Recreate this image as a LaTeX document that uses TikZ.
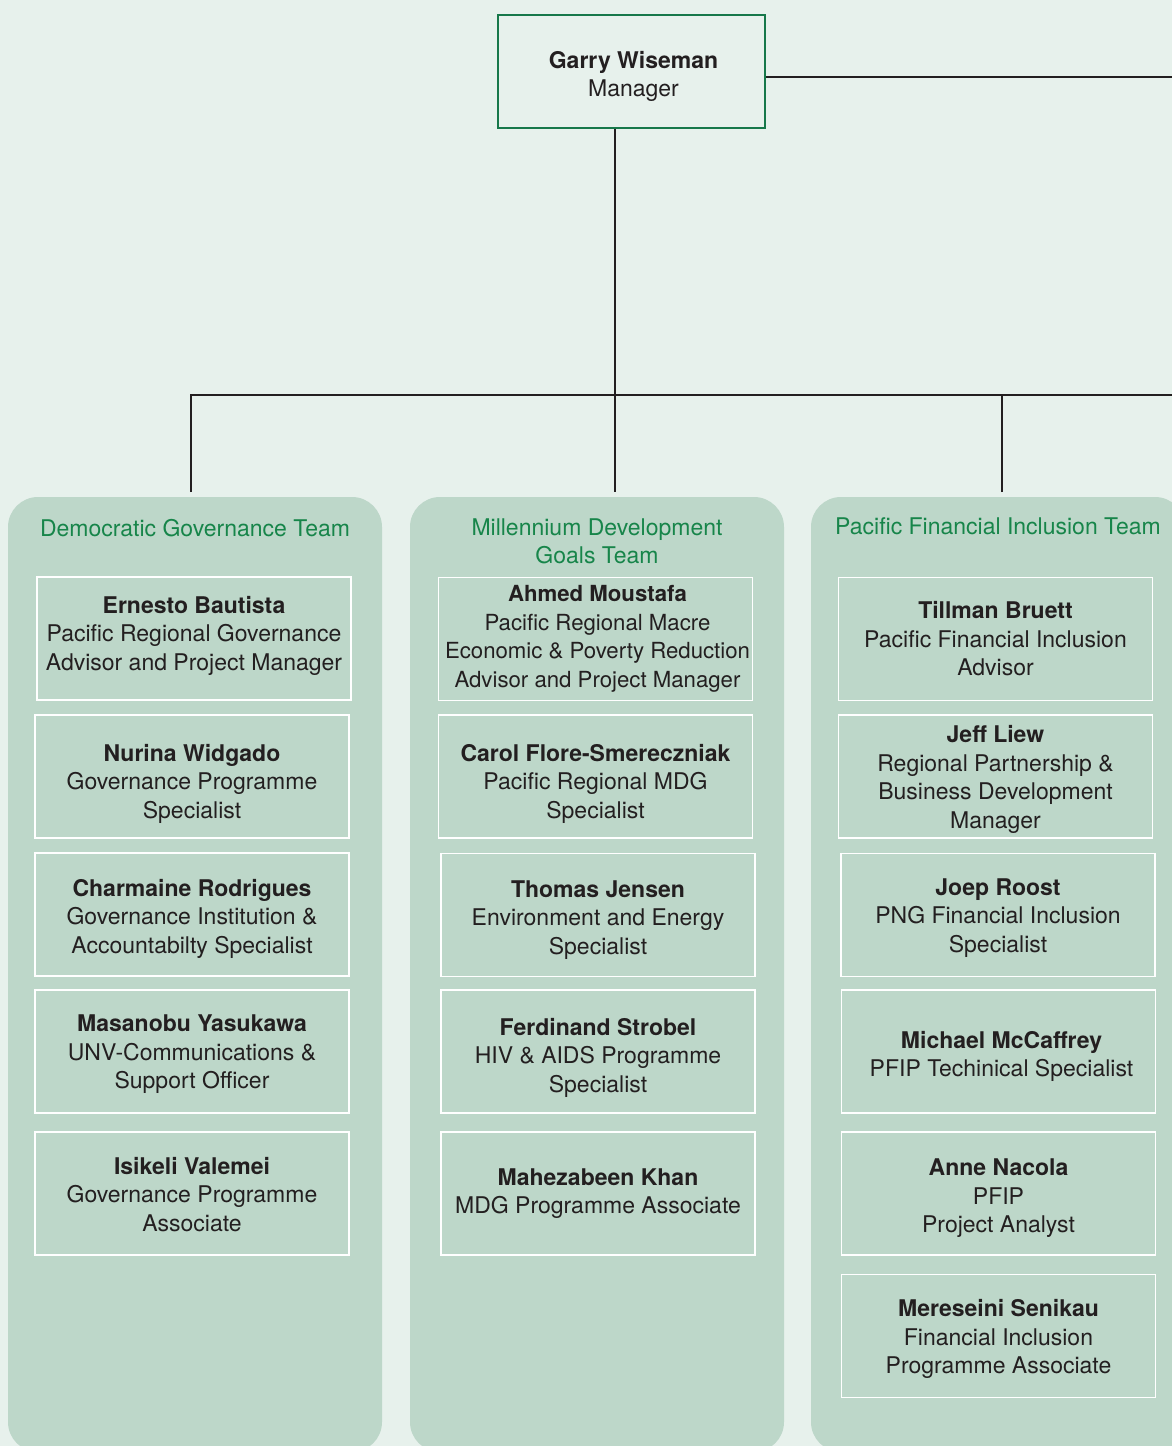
\documentclass[tikz,border=0pt]{standalone}
\usepackage{fontspec}
\setmainfont{TeX Gyre Heros}
\definecolor{bgc}{HTML}{E7F1EC}
\definecolor{panelc}{HTML}{BDD7C9}
\definecolor{titlegreen}{HTML}{17854A}
\definecolor{boxgreen}{HTML}{17784A}
\definecolor{ink}{HTML}{231F20}
\begin{document}
\begin{tikzpicture}[x=1pt,y=-1pt,
  panel/.style={fill=panelc, rounded corners=30pt, minimum width=374pt, minimum height=955pt, inner sep=0pt},
  teamtitle/.style={text=titlegreen, align=center, font=\fontsize{23}{28}\selectfont, inner sep=0pt},
  pbox/.style={draw=white, line width=1.5pt, minimum width=314pt, minimum height=123pt, inner sep=0pt},
  ptext/.style={align=center, text=ink, inner sep=0pt, font=\fontsize{23}{28.5}\selectfont},
  mgrbox/.style={draw=boxgreen, line width=2.5pt, fill=bgc, minimum width=267pt, minimum height=113pt, inner sep=0pt},
  conn/.style={draw=ink, line width=2.8pt}
]
\useasboundingbox (0,0) rectangle (1172,1446);
\clip (0,0) rectangle (1172,1446);
\fill[bgc] (0,0) rectangle (1172,1446);

% panels
\node[panel] (pDG) at (195,974.5) {};
\node[panel] (pMDG) at (597,974.5) {};
\node[panel] (pPFI) at (998,974.5) {};

% manager
\node[mgrbox] (top) at (631.5,71.5) {};
\node[ptext, font=\fontsize{23}{28}\selectfont] (topt) at ([xshift=2pt,yshift=-5pt]top.center) {\textbf{Garry Wiseman}\\Manager};

% connectors
\coordinate (mgrR) at (1172,77);
\coordinate (bus) at (615,395);
\coordinate (busR) at (1172,395);
\coordinate (d1) at (191,492);
\coordinate (d2) at (615,492);
\coordinate (d3) at (1002,492);
\draw[conn] (top.east |- mgrR) -- (mgrR);
\draw[conn] (top.south -| bus) -- (d2);
\draw[conn] (d1) |- (busR);
\draw[conn] (d3) -- (d3 |- bus);

% titles
\node[teamtitle] (tDG) at (195,528) {Democratic Governance Team};
\node[teamtitle] (tMDG) at (597,541) {Millennium Development\\Goals Team};
\node[teamtitle] (tPFI) at (998,526) {Pacific Financial Inclusion Team};

% Democratic Governance
\node[pbox] (L1) at (194,638.5) {};
\node[ptext] (L1t) at ([yshift=3pt]L1.center) {\textbf{Ernesto Bautista}\\Pacific Regional Governance\\Advisor and Project Manager};
\node[pbox] (L2) at (192,776.5) {};
\node[ptext] (L2t) at ([yshift=-7pt]L2.center) {\textbf{Nurina Widgado}\\Governance Programme\\Specialist};
\node[pbox] (L3) at (192,914.5) {};
\node[ptext] (L3t) at ([yshift=-4pt]L3.center) {\textbf{Charmaine Rodrigues}\\Governance Institution \&\\Accountabilty Specialist};
\node[pbox] (L4) at (192,1051.5) {};
\node[ptext] (L4t) at ([yshift=-3pt]L4.center) {\textbf{Masanobu Yasukawa}\\UNV-Communications \&\\Support Officer};
\node[pbox] (L5) at (192,1193.5) {};
\node[ptext] (L5t) at ([yshift=-1pt]L5.center) {\textbf{Isikeli Valemei}\\Governance Programme\\Associate};

% MDG
\node[pbox] (M1) at (595.5,639) {};
\node[ptext, font=\fontsize{22.2}{28.5}\selectfont] (M1t) at ([xshift=2pt]M1.center) {\textbf{Ahmed Moustafa}\\Pacific Regional Macre\\Economic \& Poverty Reduction\\Advisor and Project Manager};
\node[pbox] (M2) at (595.5,776.5) {};
\node[ptext] (M2t) at ([yshift=-7pt]M2.center) {\textbf{Carol Flore-Smereczniak}\\Pacific Regional MDG\\Specialist};
\node[pbox] (M3) at (598,915) {};
\node[ptext] (M3t) at ([yshift=-5pt]M3.center) {\textbf{Thomas Jensen}\\Environment and Energy\\Specialist};
\node[pbox] (M4) at (598,1051.5) {};
\node[ptext] (M4t) at ([yshift=-6pt]M4.center) {\textbf{Ferdinand Strobel}\\HIV \& AIDS Programme\\Specialist};
\node[pbox] (M5) at (598,1193.5) {};
\node[ptext] (M5t) at (M5.center) {\textbf{Mahezabeen Khan}\\MDG Programme Associate};

% PFI
\node[pbox] (R1) at (995.5,639) {};
\node[ptext] (R1t) at (R1.center) {\textbf{Tillman Bruett}\\Pacific Financial Inclusion\\Advisor};
\node[pbox] (R2) at (995.5,776.5) {};
\node[ptext] (R2t) at ([yshift=-3pt]R2.center) {\textbf{Jeff Liew}\\Regional Partnership \&\\Business Development\\Manager};
\node[pbox] (R3) at (998,915) {};
\node[ptext] (R3t) at ([yshift=-3pt]R3.center) {\textbf{Joep Roost}\\PNG Financial Inclusion\\Specialist};
\node[pbox] (R4) at (998.5,1051.5) {};
\node[ptext] (R4t) at ([xshift=3pt,yshift=-5pt]R4.center) {\textbf{Michael McCaffrey}\\PFIP Techinical Specialist};
\node[pbox] (R5) at (998.5,1193.5) {};
\node[ptext] (R5t) at ([yshift=-5pt]R5.center) {\textbf{Anne Nacola}\\PFIP\\Project Analyst};
\node[pbox] (R6) at (998.5,1336) {};
\node[ptext] (R6t) at ([yshift=-3pt]R6.center) {\textbf{Mereseini Senikau}\\Financial Inclusion\\Programme Associate};
\end{tikzpicture}
\end{document}
